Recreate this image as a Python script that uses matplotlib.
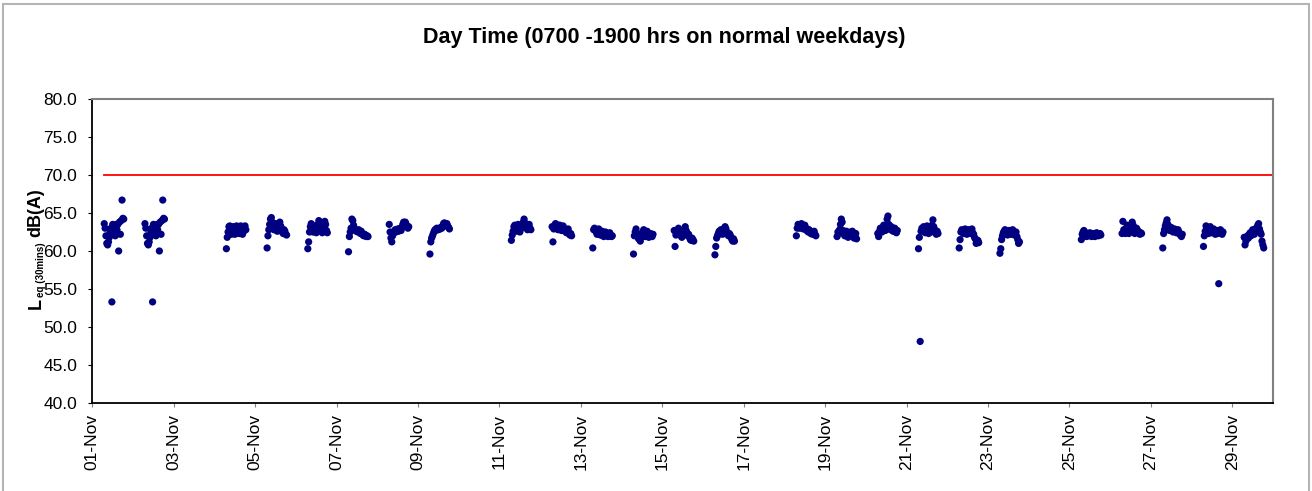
import numpy as np
import pandas as pd
import matplotlib
matplotlib.use("Agg")
import matplotlib.pyplot as plt
import matplotlib.dates as mdates
from matplotlib.patches import Rectangle

plt.rcParams['font.family'] = ['Liberation Sans', 'DejaVu Sans']

# half-hourly Leq readings, 07:00 - 18:30, one list per measured day (Nov 2013, Sundays excluded)
nov01 = [63.6, 63.0, 62.0, 61.0, 60.8, 61.2, 61.8, 62.5, 63.0, 53.3, 63.5, 62.8,
         63.2, 62.0, 63.5, 62.8, 63.5, 60.0, 63.8, 62.2, 64.0, 66.7, 64.3, 64.2]
nov02 = [63.6, 63.0, 62.0, 61.0, 60.8, 61.2, 61.8, 62.5, 63.0, 53.3, 63.5, 62.8,
         63.2, 62.0, 63.5, 62.8, 63.5, 60.0, 63.8, 62.2, 64.0, 66.7, 64.3, 64.2]
nov04 = [60.3, 61.8, 62.5, 63.2, 63.3, 62.5, 62.2, 62.8, 63.2, 62.5, 62.2, 62.8,
         63.3, 62.9, 62.4, 62.3, 62.9, 63.3, 62.6, 62.2, 62.5, 63.1, 63.3, 62.8]
nov05 = [60.4, 62.0, 62.8, 63.5, 64.2, 64.4, 63.8, 63.2, 62.8, 63.0, 63.6, 63.2,
         62.6, 63.0, 63.5, 63.8, 63.3, 62.9, 62.5, 62.3, 62.8, 62.6, 62.2, 62.1]
nov06 = [60.3, 61.2, 62.5, 63.2, 63.6, 62.8, 62.5, 63.0, 63.3, 62.8, 62.4, 62.9,
         63.5, 64.0, 63.7, 63.2, 62.7, 62.4, 62.8, 63.4, 63.9, 63.5, 62.7, 62.4]
nov07 = [59.9, 61.9, 62.5, 63.0, 64.2, 64.0, 63.4, 63.0, 62.8, 62.6, 62.6, 62.5,
         62.8, 62.5, 62.3, 62.6, 62.3, 62.1, 62.0, 62.2, 62.1, 61.9, 62.0, 61.9]
nov08 = [63.5, 62.5, 61.7, 61.2, 62.0, 62.4, 62.6, 62.8, 62.5, 62.7, 62.9, 62.6,
         62.8, 63.0, 62.7, 63.1, 63.5, 63.8, 63.6, 63.8, 63.5, 63.2, 63.0, 63.2]
nov09 = [59.6, 61.2, 61.7, 62.0, 62.3, 62.6, 62.8, 62.7, 63.0, 62.9, 62.8, 63.0,
         62.9, 63.1, 63.0, 63.3, 63.6, 63.7, 63.5, 63.3, 63.6, 63.3, 63.1, 62.9]
nov11 = [61.4, 62.1, 62.6, 63.2, 63.4, 63.0, 62.6, 63.2, 63.5, 63.0, 62.5, 62.9,
         63.3, 63.5, 63.8, 64.2, 63.7, 63.3, 63.0, 62.8, 63.2, 63.5, 63.0, 62.8]
nov12 = [63.2, 61.2, 62.9, 63.3, 63.6, 63.5, 63.0, 62.8, 63.2, 63.4, 63.1, 62.7,
         62.9, 63.3, 63.0, 62.6, 62.8, 62.4, 62.6, 62.9, 62.3, 62.1, 62.3, 62.0]
nov13 = [60.4, 62.8, 63.0, 62.7, 62.5, 62.2, 62.6, 62.9, 62.4, 62.1, 62.3, 62.6,
         62.0, 61.9, 62.2, 62.5, 62.3, 62.0, 61.9, 62.2, 62.4, 62.1, 61.9, 62.0]
nov14 = [59.6, 62.0, 62.5, 62.9, 62.3, 61.9, 61.6, 62.2, 61.3, 61.8, 62.1, 62.5,
         62.8, 62.4, 61.9, 62.3, 62.6, 62.2, 61.8, 62.0, 62.3, 62.1, 61.9, 62.2]
nov15 = [62.7, 60.6, 62.1, 62.4, 62.7, 63.0, 62.6, 62.3, 62.0, 61.8, 62.1, 62.5,
         62.8, 63.2, 62.7, 62.4, 62.0, 62.2, 61.8, 61.5, 61.4, 61.7, 61.5, 61.3]
nov16 = [59.5, 60.6, 61.7, 62.0, 62.3, 62.6, 62.4, 62.8, 62.5, 62.2, 62.6, 63.0,
         63.2, 62.9, 62.5, 62.2, 62.0, 62.3, 62.1, 61.8, 61.5, 61.3, 61.6, 61.3]
nov18 = [62.0, 63.0, 63.5, 63.3, 63.0, 63.4, 63.6, 63.2, 62.9, 63.1, 63.4, 63.0,
         62.7, 62.9, 62.5, 62.8, 62.6, 62.3, 62.5, 62.2, 62.4, 62.6, 62.2, 62.0]
nov19 = [61.9, 62.5, 62.3, 62.8, 63.5, 64.2, 63.8, 62.7, 62.3, 62.0, 62.4, 62.6,
         62.1, 61.8, 62.0, 62.3, 62.5, 62.2, 62.6, 62.4, 61.7, 62.0, 62.3, 61.6]
nov20 = [62.3, 61.9, 62.6, 63.0, 62.8, 62.5, 63.1, 63.4, 62.9, 62.7, 63.2, 64.2,
         64.6, 63.5, 63.0, 62.8, 63.2, 62.9, 62.6, 62.8, 63.0, 62.5, 62.4, 62.7]
nov21 = [60.3, 61.8, 48.1, 62.6, 63.0, 62.7, 63.2, 62.8, 62.4, 62.9, 63.3, 62.7,
         62.3, 62.6, 63.0, 62.5, 63.4, 64.1, 63.2, 62.8, 62.5, 62.2, 62.6, 62.3]
nov22 = [60.4, 61.5, 62.5, 62.8, 62.6, 62.3, 62.7, 62.9, 62.5, 62.2, 62.4, 62.8,
         62.6, 62.3, 62.7, 62.9, 62.4, 62.2, 61.8, 61.6, 61.0, 61.2, 61.4, 61.1]
nov23 = [59.7, 60.3, 61.5, 62.0, 62.4, 62.6, 62.8, 62.5, 62.3, 62.1, 62.4, 62.7,
         62.5, 62.2, 62.6, 62.8, 62.4, 62.1, 62.3, 62.5, 61.9, 61.5, 61.0, 61.2]
nov25 = [61.5, 62.2, 62.5, 62.7, 62.5, 62.2, 61.9, 62.3, 62.0, 62.2, 62.4, 62.1,
         61.9, 62.0, 62.3, 62.2, 61.9, 62.1, 62.4, 62.3, 62.0, 62.2, 62.3, 62.1]
nov26 = [62.3, 63.9, 62.8, 62.5, 62.3, 63.0, 63.4, 62.8, 62.3, 62.5, 62.9, 63.2,
         63.8, 63.4, 62.7, 62.3, 62.6, 63.0, 62.8, 62.4, 62.5, 62.2, 62.4, 62.3]
nov27 = [60.4, 62.3, 62.8, 63.3, 63.7, 64.1, 63.5, 63.0, 62.7, 62.9, 63.1, 62.8,
         62.5, 62.7, 62.9, 62.6, 62.4, 62.7, 62.8, 62.5, 62.2, 62.1, 61.9, 62.2]
nov28 = [60.6, 62.0, 62.6, 63.3, 62.9, 62.5, 62.3, 62.8, 63.2, 62.7, 62.4, 62.6,
         62.9, 62.5, 62.2, 62.4, 62.7, 62.3, 55.7, 62.5, 62.8, 62.4, 62.2, 62.5]
nov29 = [61.8, 60.8, 61.3, 61.8, 62.0, 61.7, 62.2, 62.4, 62.0, 62.5, 62.8, 62.4,
         62.2, 62.7, 63.0, 62.6, 63.4, 63.6, 62.9, 62.5, 62.2, 61.3, 60.8, 60.4]

day_numbers = [1, 2, 4, 5, 6, 7, 8, 9, 11, 12, 13, 14, 15, 16,
               18, 19, 20, 21, 22, 23, 25, 26, 27, 28, 29]
day_values = [nov01, nov02, nov04, nov05, nov06, nov07, nov08, nov09, nov11, nov12,
              nov13, nov14, nov15, nov16, nov18, nov19, nov20, nov21, nov22, nov23,
              nov25, nov26, nov27, nov28, nov29]
limit_level = 70.0
y_ticks = [40, 45, 50, 55, 60, 65, 70, 75, 80]

times = []
levels = []
for d, vals in zip(day_numbers, day_values):
    stamps = pd.date_range(f"2013-11-{d:02d} 07:00", periods=len(vals), freq="30min")
    times.extend(stamps)
    levels.extend(vals)
times = pd.DatetimeIndex(times)

x_start = pd.Timestamp("2013-11-01")
x_end = pd.Timestamp("2013-11-30")

fig = plt.figure(figsize=(13.12, 4.91), dpi=100)
fig.patches.append(Rectangle((0.0025, -0.05), 0.9955, 1.042, transform=fig.transFigure,
                             fill=False, edgecolor='#b4b4b4', linewidth=1.5))
ax = fig.add_axes([0.0704, 0.1792, 0.8999, 0.6192])

ax.plot([times[0], x_end], [limit_level, limit_level], color='#ff0000', linewidth=1.3, zorder=2)
ax.scatter(times, levels, s=27, color='#000080', edgecolors='none', zorder=3)

ax.set_xlim(x_start, x_end)
ax.set_ylim(40, 80)
ax.set_yticks(y_ticks)
ax.yaxis.set_major_formatter(plt.FormatStrFormatter('%.1f'))
ax.xaxis.set_major_locator(mdates.DayLocator(bymonthday=range(1, 31, 2)))
ax.xaxis.set_major_formatter(mdates.DateFormatter('%d-%b'))
ax.tick_params(axis='x', rotation=90, labelsize=12.5, length=3, pad=5, color='#808080')
ax.tick_params(axis='y', labelsize=12.5, length=3, pad=8)

for side in ['left', 'bottom']:
    ax.spines[side].set_color('black')
    ax.spines[side].set_linewidth(1.3)
for side in ['top', 'right']:
    ax.spines[side].set_color('#808080')
    ax.spines[side].set_linewidth(1.5)

fig.text(0.506, 0.923, 'Day Time (0700 -1900 hrs on normal weekdays)',
         ha='center', va='center', fontsize=15.5, fontweight='bold')

# y label: L with a small subscript, then dB(A)
fig.text(36 / 1312, 1 - 309 / 491, 'L', rotation=90, ha='center', va='bottom',
         fontsize=13, fontweight='bold')
fig.text(41 / 1312, 1 - 297 / 491, 'eq (30mins)', rotation=90, ha='center', va='bottom',
         fontsize=7, fontweight='bold')
fig.text(36 / 1312, 1 - 237 / 491, 'dB(A)', rotation=90, ha='center', va='bottom',
         fontsize=13, fontweight='bold')

fig.savefig('out.png', dpi=100)
